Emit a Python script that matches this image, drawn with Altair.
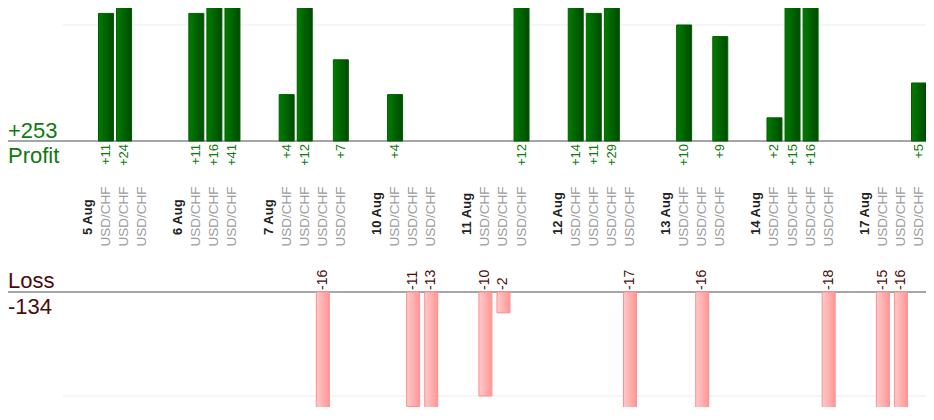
import altair as alt
import pandas as pd

# ---------------- data ----------------
days = ["5 Aug", "6 Aug", "7 Aug", "10 Aug", "11 Aug", "12 Aug", "13 Aug", "14 Aug", "17 Aug"]
day_pnl = [
    [11, 24, 0],
    [11, 16, 41],
    [4, 12, -16, 7],
    [4, -11, -13],
    [-10, -2, 12],
    [14, 11, 29, -17],
    [10, -16, 9],
    [2, 15, 16, -18],
    [-15, -16, 5],
]
pair = "USD/CHF"
titles = ["Profit", "Loss"]
grid_values = [10, -10]

# build tables (one header slot per day, then its trades, then a blank slot)
header_rows, trade_rows = [], []
slot = 1
for d, pnls in zip(days, day_pnl):
    header_rows.append({"slot": slot, "day": d})
    for j, v in enumerate(pnls):
        trade_rows.append({"slot": slot + 1 + j, "pnl": v, "pair": pair, "day": d})
    slot += len(pnls) + 2
trades = pd.DataFrame(trade_rows)
headers = pd.DataFrame(header_rows)

# ---------------- styles ----------------
FONT = "Liberation Sans"
GREEN_TXT = "#0f7a0f"
RED_TXT = "#4a0c0c"
W, H = 918, 399

xs = alt.Scale(domain=[-3.4245, 47.387], nice=False, zero=False, padding=0)
ps = alt.Scale(domain=[-22.931, 11.4655], nice=False, zero=False, padding=0)
ls = alt.Scale(domain=[-11.0577, 27.3077], nice=False, zero=False, padding=0)

green_grad = alt.LinearGradient(
    gradient="linear",
    stops=[alt.GradientStop(color="#007c00", offset=0), alt.GradientStop(color="#004a00", offset=1)],
    x1=0, x2=1, y1=0, y2=0,
)
pink_grad = alt.LinearGradient(
    gradient="linear",
    stops=[alt.GradientStop(color="#ffcaca", offset=0), alt.GradientStop(color="#ff9696", offset=1)],
    x1=0, x2=1, y1=0, y2=0,
)

X = alt.X("slot:Q", scale=xs, axis=None)
py0 = alt.YDatum(0, scale=ps, axis=None)
ly0 = alt.YDatum(0, scale=ls, axis=None)

# ---------------- profit panel ----------------
grid_p = alt.Chart(pd.DataFrame({"v": [grid_values[0]]})).mark_rule(color="#ececec", strokeWidth=1).encode(
    y=alt.Y("v:Q", scale=ps, axis=None), x=alt.value(55), x2=alt.value(W)
)
base_p = alt.Chart(pd.DataFrame({"v": [0]})).mark_rule(color="#888888", strokeWidth=1.3).encode(
    y=alt.Y("v:Q", scale=ps, axis=None), x=alt.value(0), x2=alt.value(W)
)
profit_bars = alt.Chart(trades).transform_filter("datum.pnl > 0").mark_bar(
    width=15, clip=True, color=green_grad, stroke="#005e00", strokeWidth=1, orient="vertical"
).encode(
    x=X, y=alt.Y("pnl:Q", scale=ps, axis=None, stack=None), y2=alt.Y2Datum(0)
)
profit_labels = alt.Chart(trades).transform_filter("datum.pnl > 0").transform_calculate(
    label="'+' + datum.pnl"
).mark_text(
    angle=270, align="right", baseline="middle", dx=-3, fontSize=13, font=FONT, color=GREEN_TXT
).encode(x=X, y=py0, text="label:N")
pair_labels = alt.Chart(trades).mark_text(
    angle=270, align="left", baseline="middle", dx=-105.5, fontSize=13.5, font=FONT, color="#9c9c9c"
).encode(x=X, y=py0, text="pair:N")
date_labels = alt.Chart(headers).mark_text(
    angle=270, align="left", baseline="middle", dx=-94, fontSize=13, font=FONT,
    fontWeight="bold", color="#222222"
).encode(x=X, y=py0, text="day:N")
profit_total = alt.Chart(trades).transform_filter("datum.pnl > 0").transform_aggregate(
    total="sum(pnl)"
).transform_calculate(label="'+' + datum.total").mark_text(
    align="left", baseline="alphabetic", dy=-3, fontSize=22, font=FONT, color=GREEN_TXT
).encode(x=alt.value(0), y=py0, text="label:N")
profit_title = alt.Chart(pd.DataFrame({"t": [titles[0]]})).mark_text(
    align="left", baseline="alphabetic", dy=22, fontSize=22, font=FONT, color=GREEN_TXT
).encode(x=alt.value(0), y=py0, text="t:N")

profit_layer = alt.layer(grid_p, base_p, profit_bars, profit_labels, pair_labels,
                         date_labels, profit_total, profit_title)

# ---------------- loss panel ----------------
grid_l = alt.Chart(pd.DataFrame({"v": [grid_values[1]]})).mark_rule(color="#ececec", strokeWidth=1).encode(
    y=alt.Y("v:Q", scale=ls, axis=None), x=alt.value(55), x2=alt.value(W)
)
base_l = alt.Chart(pd.DataFrame({"v": [0]})).mark_rule(color="#888888", strokeWidth=1.3).encode(
    y=alt.Y("v:Q", scale=ls, axis=None), x=alt.value(0), x2=alt.value(W)
)
loss_bars = alt.Chart(trades).transform_filter("datum.pnl < 0").mark_bar(
    width=13, clip=True, color=pink_grad, stroke="#ff8e8e", strokeWidth=1, orient="vertical"
).encode(
    x=X, y=alt.Y("pnl:Q", scale=ls, axis=None, stack=None), y2=alt.Y2Datum(0)
)
loss_labels = alt.Chart(trades).transform_filter("datum.pnl < 0").transform_calculate(
    label="'' + datum.pnl"
).mark_text(
    angle=270, align="left", baseline="middle", dx=2, fontSize=14, font=FONT, color=RED_TXT
).encode(x=X, y=ly0, text="label:N")
loss_total = alt.Chart(trades).transform_filter("datum.pnl < 0").transform_aggregate(
    total="sum(pnl)"
).transform_calculate(label="'' + datum.total").mark_text(
    align="left", baseline="alphabetic", dy=22, fontSize=22, font=FONT, color=RED_TXT
).encode(x=alt.value(0), y=ly0, text="label:N")
loss_title = alt.Chart(pd.DataFrame({"t": [titles[1]]})).mark_text(
    align="left", baseline="alphabetic", dy=-4, fontSize=22, font=FONT, color=RED_TXT
).encode(x=alt.value(0), y=ly0, text="t:N")

loss_layer = alt.layer(grid_l, base_l, loss_bars, loss_labels, loss_total, loss_title)

chart = alt.layer(profit_layer, loss_layer).resolve_scale(y="independent").properties(
    width=W, height=H, autosize=alt.AutoSizeParams(type="none"), padding=0
).configure_view(stroke=None)

chart.save("out.html", embed_options={"renderer": "svg", "actions": False})
